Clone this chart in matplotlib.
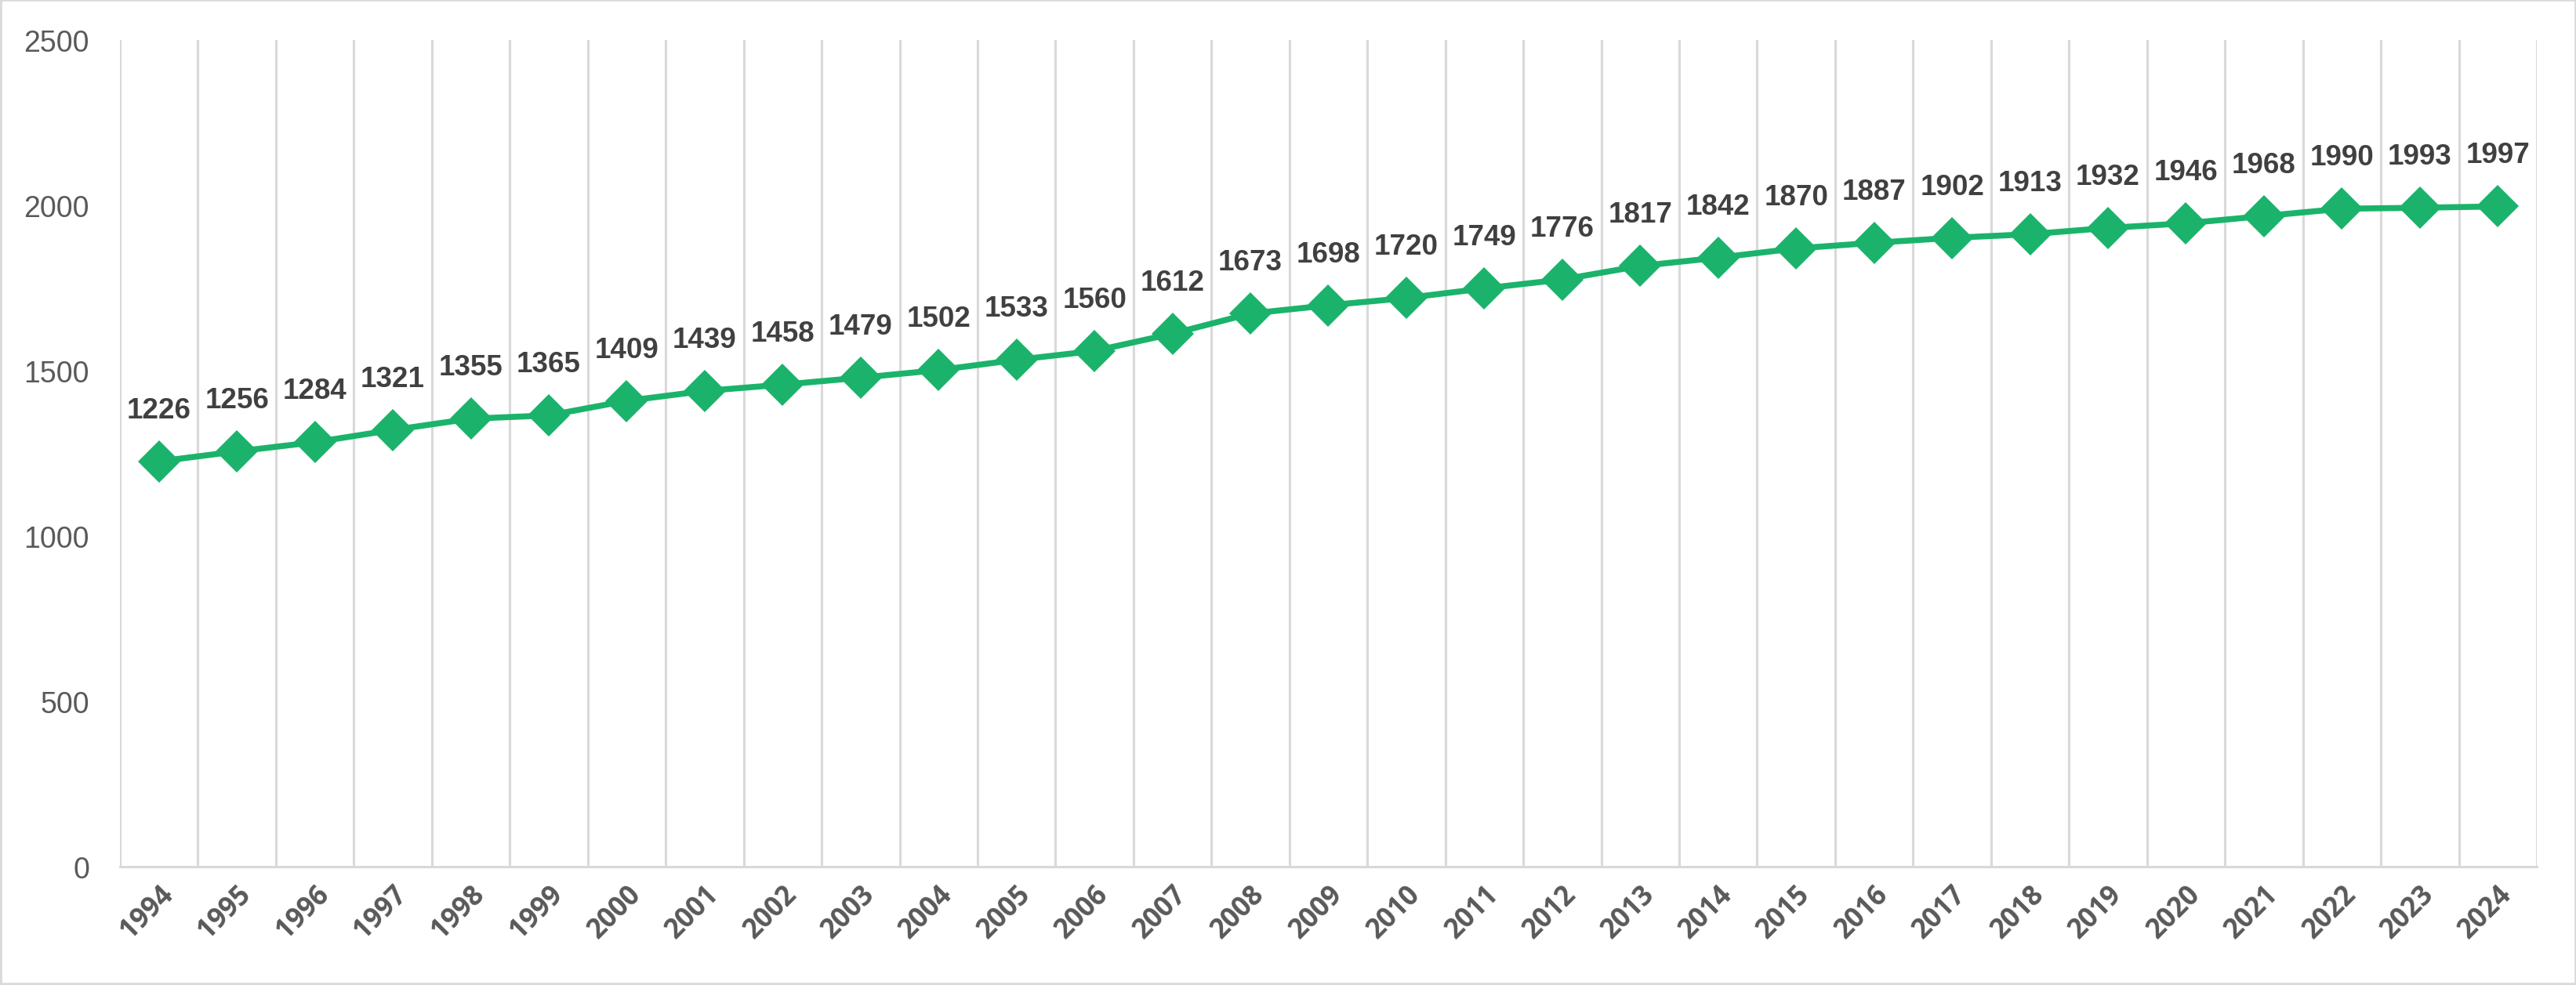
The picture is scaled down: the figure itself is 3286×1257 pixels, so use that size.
import matplotlib.pyplot as plt
import matplotlib.patches as patches

years = [str(y) for y in range(1994, 2025)]
values = [1226, 1256, 1284, 1321, 1355, 1365, 1409, 1439, 1458, 1479, 1502,
          1533, 1560, 1612, 1673, 1698, 1720, 1749, 1776, 1817, 1842, 1870,
          1887, 1902, 1913, 1932, 1946, 1968, 1990, 1993, 1997]
yticks = [0, 500, 1000, 1500, 2000, 2500]

green = '#1bb36b'
grid_c = '#d9d9d9'

fig = plt.figure(figsize=(32.87, 12.578), dpi=100)
ax = fig.add_axes([153 / 3287, 1 - 1107 / 1258, (3236 - 153) / 3287, (1107 - 52) / 1258])

x = list(range(len(years)))
ax.plot(x, values, color=green, linewidth=5.5, marker='D', markersize=28,
        markeredgewidth=0, zorder=3)

for xi, v in zip(x, values):
    ax.annotate(str(v), (xi, v), xytext=(0, 47), textcoords='offset points',
                ha='center', va='center', fontsize=26.5, fontweight='bold',
                color='#404040', family='Liberation Sans')

ax.set_xlim(-0.5, len(years) - 0.5)
ax.set_ylim(0, 2500)
ax.set_yticks(yticks)
ax.set_yticklabels([str(t) for t in yticks], fontsize=27, color='#595959',
                   family='Liberation Sans')
ax.set_xticks(x)
ax.set_xticklabels(years, rotation=45, ha='right', rotation_mode='anchor',
                   fontsize=25, fontweight='bold', color='#595959',
                   family='Open Sans')

# category boundaries as vertical gridlines
for b in range(len(years) + 1):
    ax.axvline(b - 0.5, color=grid_c, linewidth=2.2, zorder=1)

ax.tick_params(axis='both', length=0)
ax.tick_params(axis='y', pad=28)
ax.tick_params(axis='x', pad=12)
for s in ['top', 'right', 'left']:
    ax.spines[s].set_visible(False)
ax.spines['bottom'].set_color(grid_c)
ax.spines['bottom'].set_linewidth(2.2)

fig.patches.append(patches.Rectangle((0, 0), 1, 1, transform=fig.transFigure,
                                     fill=False, edgecolor=grid_c, linewidth=4))

fig.savefig('out.png', dpi=100)
